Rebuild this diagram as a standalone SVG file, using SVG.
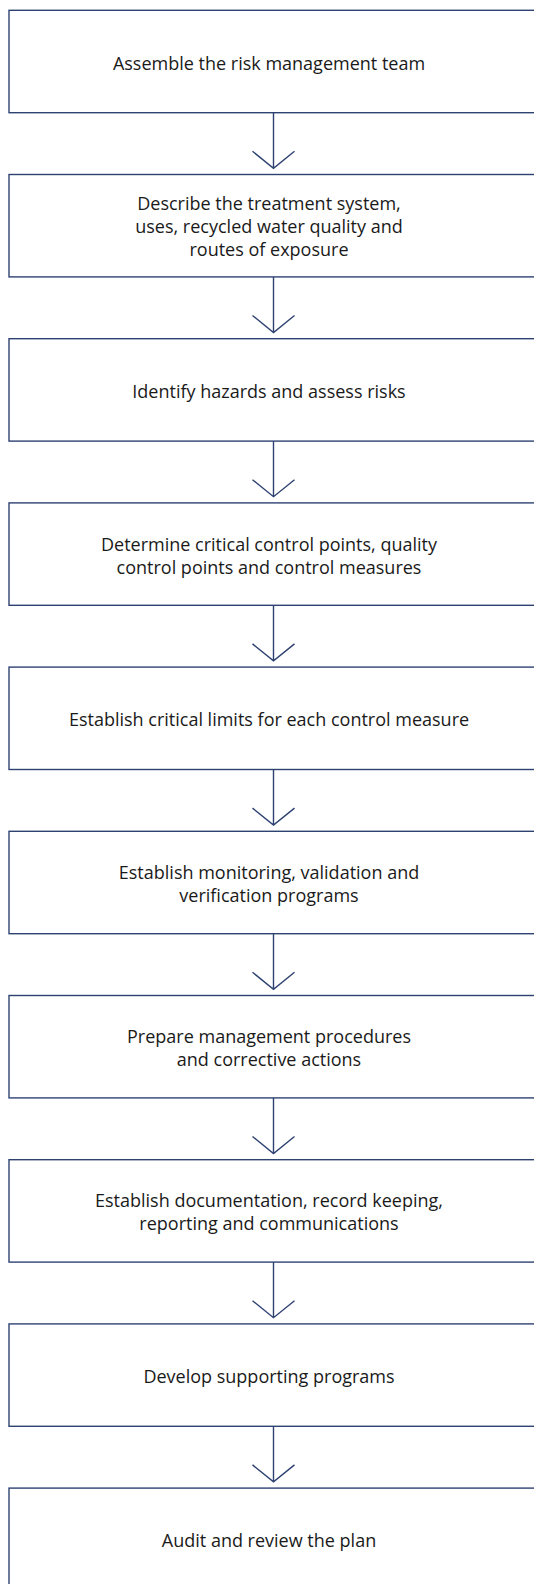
<svg xmlns="http://www.w3.org/2000/svg" width="534" height="1584" viewBox="0 0 534 1584">
<style>
.box{fill:#ffffff;stroke:#2e4272;stroke-width:1.4}
.lbl{font-family:"Open Sans","Noto Sans","Liberation Sans",sans-serif;font-size:18px;fill:#1a1a1a;text-anchor:middle}
.con{fill:none;stroke:#2e4272;stroke-width:1.4}
</style>
<rect width="534" height="1584" fill="#ffffff"/>
<g id="connectors">
<path class="con" d="M273.5 112.7V168.3M252.5 151.3L273.5 168.3L294.5 151.3"/>
<path class="con" d="M273.5 276.9V332.5M252.5 315.5L273.5 332.5L294.5 315.5"/>
<path class="con" d="M273.5 441.1V496.7M252.5 479.7L273.5 496.7L294.5 479.7"/>
<path class="con" d="M273.5 605.3V660.9M252.5 643.9L273.5 660.9L294.5 643.9"/>
<path class="con" d="M273.5 769.5V825.1M252.5 808.1L273.5 825.1L294.5 808.1"/>
<path class="con" d="M273.5 933.7V989.3M252.5 972.3L273.5 989.3L294.5 972.3"/>
<path class="con" d="M273.5 1097.9V1153.5M252.5 1136.5L273.5 1153.5L294.5 1136.5"/>
<path class="con" d="M273.5 1262.1V1317.7M252.5 1300.7L273.5 1317.7L294.5 1300.7"/>
<path class="con" d="M273.5 1426.3V1481.9M252.5 1464.9L273.5 1481.9L294.5 1464.9"/>
</g>
<g id="n1"><rect class="box" x="9" y="10.3" width="540" height="102.4"/><text class="lbl" x="269" y="69.6">Assemble the risk management team</text></g>
<g id="n2"><rect class="box" x="9" y="174.5" width="540" height="102.4"/><text class="lbl" x="269" y="210.3">Describe the treatment system,</text><text class="lbl" x="269" y="233.3">uses, recycled water quality and</text><text class="lbl" x="269" y="256.3">routes of exposure</text></g>
<g id="n3"><rect class="box" x="9" y="338.7" width="540" height="102.4"/><text class="lbl" x="269" y="398">Identify hazards and assess risks</text></g>
<g id="n4"><rect class="box" x="9" y="502.9" width="540" height="102.4"/><text class="lbl" x="269" y="550.6">Determine critical control points, quality</text><text class="lbl" x="269" y="573.6">control points and control measures</text></g>
<g id="n5"><rect class="box" x="9" y="667.1" width="540" height="102.4"/><text class="lbl" x="269" y="726.4">Establish critical limits for each control measure</text></g>
<g id="n6"><rect class="box" x="9" y="831.3" width="540" height="102.4"/><text class="lbl" x="269" y="879">Establish monitoring, validation and</text><text class="lbl" x="269" y="902">verification programs</text></g>
<g id="n7"><rect class="box" x="9" y="995.5" width="540" height="102.4"/><text class="lbl" x="269" y="1043.2">Prepare management procedures</text><text class="lbl" x="269" y="1066.2">and corrective actions</text></g>
<g id="n8"><rect class="box" x="9" y="1159.7" width="540" height="102.4"/><text class="lbl" x="269" y="1207.4">Establish documentation, record keeping,</text><text class="lbl" x="269" y="1230.4">reporting and communications</text></g>
<g id="n9"><rect class="box" x="9" y="1323.9" width="540" height="102.4"/><text class="lbl" x="269" y="1383.2">Develop supporting programs</text></g>
<g id="n10"><rect class="box" x="9" y="1488.1" width="540" height="102.4"/><text class="lbl" x="269" y="1547.4">Audit and review the plan</text></g>
</svg>
